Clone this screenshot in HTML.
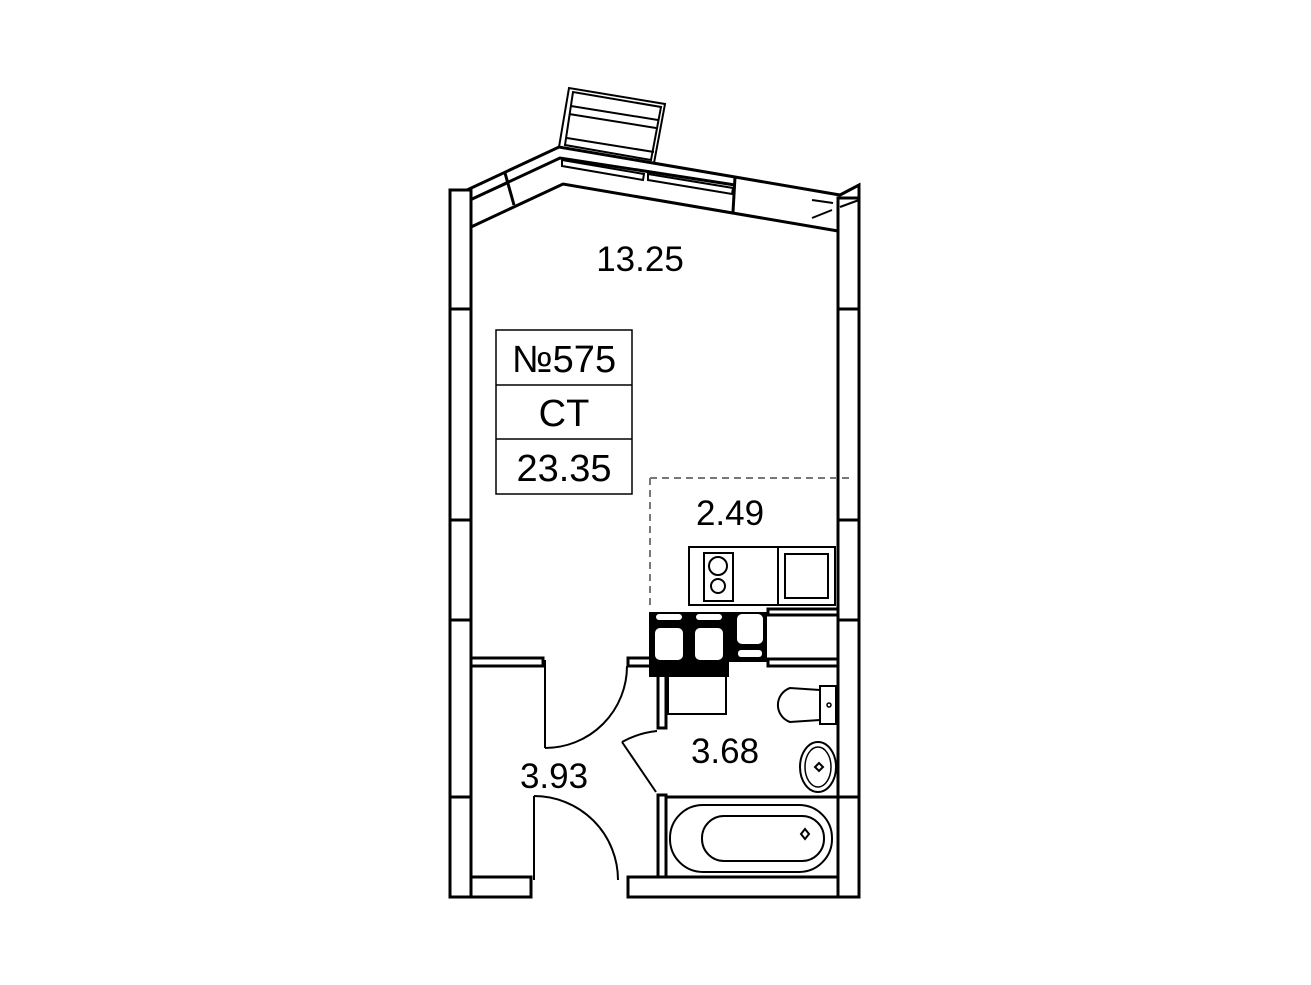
<!DOCTYPE html>
<html><head><meta charset="utf-8"><style>
html,body{margin:0;padding:0;background:#fff;}
svg{display:block;}
text{font-family:"Liberation Sans","DejaVu Sans",sans-serif;fill:#000;}
</style></head><body>
<svg width="1311" height="985" viewBox="0 0 1311 985" xmlns="http://www.w3.org/2000/svg">
<g fill="none" stroke="#000" stroke-width="3" stroke-linejoin="miter">
<rect x="450" y="190" width="21" height="707"/>
<line x1="450" y1="309" x2="471" y2="309"/>
<line x1="450" y1="520" x2="471" y2="520"/>
<line x1="450" y1="620" x2="471" y2="620"/>
<line x1="450" y1="797" x2="471" y2="797"/>
<rect x="838" y="198" width="21" height="699"/>
<line x1="838" y1="309" x2="859" y2="309"/>
<line x1="838" y1="520" x2="859" y2="520"/>
<line x1="838" y1="620" x2="859" y2="620"/>
<line x1="838" y1="797" x2="859" y2="797"/>
<polyline points="450,208 450,190 467,190 559,147 735,177 840,195 859,185 859,210"/>
<polyline points="838,198 838,231"/>
<line x1="840" y1="207" x2="859" y2="200" stroke-width="2"/>
<polyline points="471,227 563,184 838,231"/>
<polyline points="470,200 560,158 735,185"/>
<line x1="505" y1="173" x2="514" y2="205"/>
<line x1="735" y1="177" x2="733" y2="212"/>
<line x1="488" y1="192" x2="506" y2="184" stroke-width="2"/>
<line x1="812" y1="200" x2="833" y2="203" stroke-width="2"/>
<line x1="812" y1="218" x2="832" y2="210" stroke-width="2"/>
<polygon points="562,160 644,174 643,180 562,166" stroke-width="2"/>
<polygon points="648,174 733,188 732,194 648,180" stroke-width="2"/>
<polygon points="559,147 569,88 665,104 654,163" stroke-width="2"/>
<polygon points="565,145 573,92 661,107 651,160" stroke-width="2"/>
<line x1="571" y1="106" x2="658" y2="120" stroke-width="2"/>
<line x1="569" y1="114" x2="656" y2="128" stroke-width="2"/>
<line x1="567" y1="138" x2="654" y2="152" stroke-width="2"/>
<rect x="471" y="877" width="60" height="20"/>
<rect x="628" y="877" width="210" height="20"/>
<rect x="471" y="658" width="72" height="8"/>
<rect x="628" y="658" width="23" height="8"/>
<line x1="545" y1="660" x2="545" y2="748" stroke-width="2"/>
<path d="M545 748 A 82 82 0 0 0 627 666" stroke-width="2"/>
<line x1="534" y1="796" x2="534" y2="880" stroke-width="2"/>
<path d="M534 796 A 84 84 0 0 1 618 880" stroke-width="2"/>
<rect x="658" y="666" width="8" height="62"/>
<rect x="658" y="795" width="8" height="82"/>
<line x1="666" y1="797" x2="838" y2="797"/>
<line x1="656" y1="792" x2="622" y2="742" stroke-width="2"/>
<path d="M622 742 Q 638 733 657 731" stroke-width="2"/>
<rect x="668" y="676" width="58" height="38" stroke-width="2"/>
<rect x="670" y="805" width="162" height="67" rx="33" stroke-width="2"/>
<rect x="702" y="816" width="122" height="45" rx="22" stroke-width="2"/>
<path d="M805 829 l4 5 l-4 5 l-4 -5z" stroke-width="2"/>
<rect x="820" y="686" width="16" height="38" stroke-width="2"/>
<path d="M820 690 L790 688 A18 18 0 0 0 790 722 L820 720" stroke-width="2"/>
<circle cx="829" cy="705" r="2" stroke-width="1.5"/>
<ellipse cx="818" cy="767" rx="18" ry="25" stroke-width="2"/>
<ellipse cx="818" cy="767" rx="13" ry="20" stroke-width="1.5"/>
<path d="M819 763 l4 4 l-4 4 l-4 -4z" stroke-width="2"/>
<rect x="689" y="547" width="146" height="58" stroke-width="2"/>
<rect x="704" y="553" width="29" height="48" stroke-width="2"/>
<circle cx="718" cy="566" r="9" stroke-width="2"/>
<circle cx="718" cy="586" r="7" stroke-width="2"/>
<rect x="778" y="547" width="57" height="58" stroke-width="2"/>
<rect x="785" y="554" width="43" height="44" stroke-width="2"/>
<rect x="768" y="609" width="70" height="6"/>
<rect x="768" y="659" width="70" height="7"/>
<line x1="650" y1="478" x2="850" y2="478" stroke="#777" stroke-width="2" stroke-dasharray="7,5"/>
<line x1="650" y1="478" x2="650" y2="610" stroke="#777" stroke-width="2" stroke-dasharray="7,5"/>
<rect x="496" y="330" width="136" height="164" stroke-width="1.5"/>
<line x1="496" y1="385" x2="632" y2="385" stroke-width="1.5"/>
<line x1="496" y1="439" x2="632" y2="439" stroke-width="1.5"/>
</g>
<g fill="#000">
<rect x="649" y="612" width="118" height="50"/>
<rect x="649" y="655" width="80" height="22"/>
</g>
<g fill="#fff">
<rect x="655" y="628" width="28" height="32" rx="5"/>
<rect x="695" y="628" width="28" height="32" rx="5"/>
<rect x="737" y="614" width="26" height="30" rx="5"/>
<rect x="738" y="650" width="24" height="7" rx="3"/>
<rect x="656" y="614" width="26" height="6" rx="3"/>
<rect x="696" y="614" width="26" height="6" rx="3"/>
</g>
<text x="640" y="271" font-size="35" text-anchor="middle">13.25</text>
<text x="564" y="372" font-size="38" text-anchor="middle">№575</text>
<text x="564" y="426" font-size="38" text-anchor="middle">CT</text>
<text x="564" y="481" font-size="38" text-anchor="middle">23.35</text>
<text x="730" y="525" font-size="35" text-anchor="middle">2.49</text>
<text x="725" y="763" font-size="35" text-anchor="middle">3.68</text>
<text x="554" y="788" font-size="35" text-anchor="middle">3.93</text>
</svg>
</body></html>
